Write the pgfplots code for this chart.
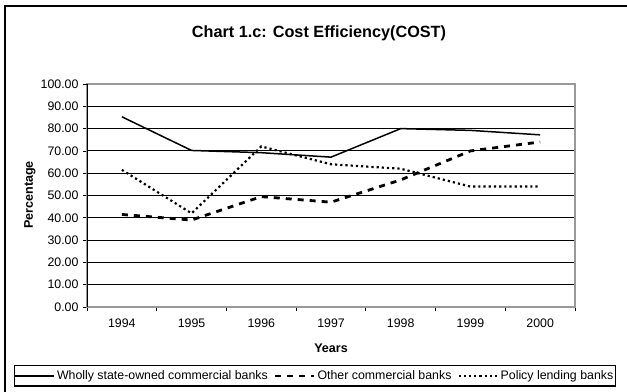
\documentclass[border=0pt]{standalone}
\usepackage{pgfplots}
\pgfplotsset{compat=1.18}
\usepackage{fontspec}
\setmainfont{Liberation Sans}
\begin{document}
\begin{tikzpicture}[x=1bp,y=1bp]
\useasboundingbox (0,0) rectangle (627,391);
\begin{scope}
\clip (0,0) rectangle (627,391);
\draw[line width=1.6bp] (5,-10) -- (5,385) -- (640,385);
\end{scope}
\node[font=\fontsize{16.3}{19}\selectfont\bfseries] at (319,358) {Chart 1.c: Cost Efficiency(COST)};
\node[font=\fontsize{12.6}{15}\selectfont\bfseries, rotate=90] at (30,196) {Percentage};
\node[font=\fontsize{12.6}{15}\selectfont\bfseries] at (331,43) {Years};
\begin{axis}[
  at={(87bp,84bp)}, anchor=south west,
  scale only axis, width=488bp, height=223bp,
  xmin=-0.5, xmax=6.5, ymin=0, ymax=100,
  xtick={0,...,6},
  xticklabels={1994,1995,1996,1997,1998,1999,2000},
  major x tick style={draw=none},
  minor xtick={-0.5,0.5,...,6.5},
  minor x tick style={black, line width=0.8bp},
  minor tick length=4bp,
  ytick={0,10,...,90},
  extra y ticks={100},
  extra y tick style={grid=none},
  ymajorgrids,
  major grid style={black, line width=1.1bp},
  y tick style={black, line width=0.8bp},
  major tick length=4bp,
  tick align=outside,
  xtick pos=bottom, ytick pos=left,
  axis line style={gray!80, line width=1.2bp},
  /pgf/number format/assume math mode=true,
  /pgf/number format/fixed, /pgf/number format/fixed zerofill, /pgf/number format/precision=2,
  yticklabel style={font=\fontsize{12.4}{14}\selectfont, xshift=-1bp},
  xticklabel style={font=\fontsize{12.4}{14}\selectfont, yshift=-4bp},
  legend columns=3,
  legend style={at={(0.467,-0.309)}, anchor=center, draw=black, line width=1.3bp,
    font=\fontsize{12.4}{14}\selectfont, inner xsep=0bp, inner ysep=3bp,
    /tikz/every odd column/.append style={column sep=0bp},
    /tikz/every even column/.append style={column sep=4bp}},
  legend image code/.code={\draw[#1] (0bp,0bp) -- (39bp,0bp);},
]
\addplot[black, line width=1.5bp] coordinates {(0,85.3) (1,70.2) (2,69.2) (3,67.2) (4,80.0) (5,79.2) (6,77.2)};
\addlegendentry{Wholly state-owned commercial banks}
\addplot[black, line width=2.8bp, dash pattern=on 6bp off 6bp] coordinates {(0,41.5) (1,39.0) (2,49.5) (3,47.0) (4,57.0) (5,70.0) (6,74.0)};
\addlegendentry{Other commercial banks}
\addplot[black, line width=2.2bp, dash pattern=on 2.2bp off 3bp] coordinates {(0,61.5) (1,42.0) (2,72.0) (3,64.0) (4,62.0) (5,54.0) (6,54.0)};
\addlegendentry{Policy lending banks}
\draw[black, line width=1.4bp] (axis cs:-0.5,0) -- (axis cs:-0.5,100);
\end{axis}
\end{tikzpicture}
\end{document}
